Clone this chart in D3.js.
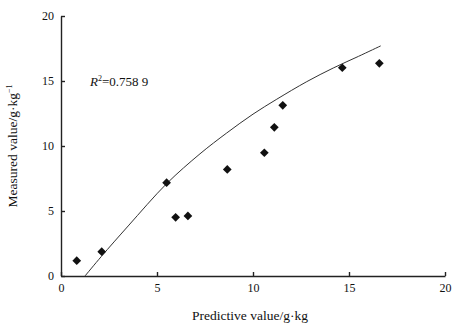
<!DOCTYPE html>
<html>
<head>
<meta charset="utf-8">
<script src="https://cdn.jsdelivr.net/npm/d3@7"></script>
<style>
  body { margin: 0; background: #fff; }
  text { font-family: "Liberation Serif", "DejaVu Serif", serif; fill: #111; }
</style>
</head>
<body>
<svg id="chart"></svg>
<script>
const svgWidth = 455;
const svgHeight = 324;
const margin = { top: 16, right: 10, bottom: 48, left: 61 };

const width = svgWidth - margin.left - margin.right;
const height = svgHeight - margin.top - margin.bottom;

// measured vs predicted samples
const predicted = [0.82, 2.12, 5.5, 5.97, 6.61, 8.66, 10.59, 11.11, 11.55, 14.65, 16.58];
const measured  = [1.18, 1.87, 7.18, 4.51, 4.62, 8.2, 9.48, 11.44, 13.13, 16.02, 16.36];

// fitted curve
const curveX = [1.25, 2.1, 3.5, 5.5, 7.24, 8.63, 10.0, 11.24, 12.8, 14.18, 15.5, 16.65];
const curveY = [0, 1.5, 3.85, 7.1, 9.4, 11.0, 12.45, 13.6, 14.95, 16.0, 16.9, 17.7];

const tickValues = [0, 5, 10, 15, 20];

const svg = d3.select("#chart")
    .attr("width", svgWidth)
    .attr("height", svgHeight);

const chart = svg.append("g")
    .attr("transform", `translate(${margin.left},${margin.top})`);

const xScale = d3.scaleLinear().domain([0, 20]).range([0, width]);
const yScale = d3.scaleLinear().domain([0, 20]).range([height, 0]);

// axes, ticks pointing inward
const xAxis = d3.axisBottom(xScale).tickValues(tickValues).tickSize(-4).tickSizeOuter(0).tickPadding(7);
const yAxis = d3.axisLeft(yScale).tickValues(tickValues).tickSize(-4).tickSizeOuter(0).tickPadding(7);

const gx = chart.append("g")
    .attr("transform", `translate(0, ${height})`)
    .call(xAxis);
const gy = chart.append("g").call(yAxis);

[gx, gy].forEach(g => {
    g.selectAll("path, line").attr("stroke", "#222").attr("stroke-width", 1.4);
    g.selectAll("text")
        .style("font-family", "'Liberation Serif', serif")
        .style("font-size", "12px")
        .attr("fill", "#111");
});

// fitted curve
const curveData = curveX.map((x, i) => [x, curveY[i]]);
chart.append("path")
    .datum(curveData)
    .attr("fill", "none")
    .attr("stroke", "#333")
    .attr("stroke-width", 1)
    .attr("d", d3.line()
        .x(d => xScale(d[0]))
        .y(d => yScale(d[1]))
        .curve(d3.curveCatmullRom));

// diamond markers (square turned 45 degrees)
chart.selectAll(".pt")
    .data(predicted.map((p, i) => [p, measured[i]]))
    .enter()
    .append("path")
    .attr("class", "pt")
    .attr("transform", d => `translate(${xScale(d[0])},${yScale(d[1])}) rotate(45)`)
    .attr("d", d3.symbol().type(d3.symbolSquare).size(38))
    .attr("fill", "#111");

// R squared annotation
const rText = chart.append("text")
    .attr("x", 29)
    .attr("y", 70)
    .style("font-size", "13px");
rText.append("tspan").style("font-style", "italic").text("R");
rText.append("tspan").attr("dy", -5).style("font-size", "8px").text("2");
rText.append("tspan").attr("dy", 5).text("=0.758 9");

// axis titles
svg.append("text")
    .attr("text-anchor", "middle")
    .attr("x", 250)
    .attr("y", 320)
    .style("font-size", "13.5px")
    .text("Predictive value/g·kg");

const yTitle = svg.append("text")
    .attr("text-anchor", "middle")
    .attr("transform", "translate(17, 146) rotate(-90)")
    .style("font-size", "13.5px");
yTitle.append("tspan").text("Measured value/g·kg");
yTitle.append("tspan").attr("dy", -5).style("font-size", "8px").text("−1");
</script>
</body>
</html>
